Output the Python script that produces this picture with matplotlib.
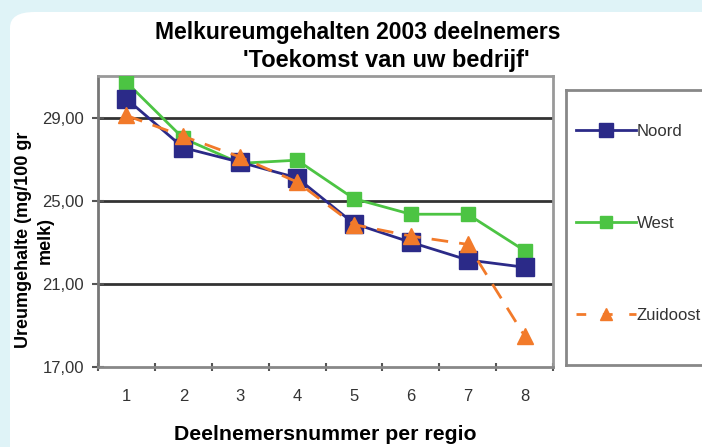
import matplotlib.pyplot as plt
from matplotlib.patches import FancyBboxPatch
from matplotlib.lines import Line2D

plt.rcParams['font.family'] = ['Liberation Sans', 'DejaVu Sans']

# gegevens
deelnemers = [1, 2, 3, 4, 5, 6, 7, 8]
noord = [29.9, 27.55, 26.85, 26.1, 23.9, 23.0, 22.15, 21.8]
west = [30.7, 28.0, 26.8, 26.95, 25.1, 24.35, 24.35, 22.6]
zuidoost = [29.1, 28.1, 27.1, 25.9, 23.85, 23.3, 22.9, 18.5]
yticks = [17, 21, 25, 29]

fig = plt.figure(figsize=(7.02, 4.47), dpi=100)
fig.patch.set_facecolor('#dff3f7')

# witte paneel met ronde hoeken
panel = FancyBboxPatch((10 / 702, -0.1), 1.2, 435 / 447 + 0.1,
                       boxstyle='round,pad=0,rounding_size=0.035',
                       transform=fig.transFigure, facecolor='white',
                       edgecolor='none', zorder=-5)
fig.patches.append(panel)

ax = fig.add_axes([98 / 702, 1 - 367 / 447, 455 / 702, 291 / 447])
ax.set_facecolor('white')

c_noord = '#2b2a88'
c_west = '#4cc443'
c_zo = '#f27a2a'

ax.plot(deelnemers, noord, color=c_noord, lw=2, marker='s', ms=13,
        mfc=c_noord, mec=c_noord, label='Noord', zorder=4)
ax.plot(deelnemers, west, color=c_west, lw=2, marker='s', ms=9.5,
        mfc=c_west, mec=c_west, label='West', zorder=3)
ax.plot(deelnemers, zuidoost, color=c_zo, lw=2, ls=(0, (6, 4)), marker='^', ms=12,
        mfc=c_zo, mec=c_zo, label='Zuidoost', zorder=5)

ax.set_xlim(0.5, 8.5)
ax.set_ylim(17, 31)
ax.set_yticks(yticks)
ax.set_yticklabels([f'{v:.2f}'.replace('.', ',') for v in yticks], fontsize=12, color='#333333')
ax.set_xticks([x + 0.5 for x in range(0, 9)])
ax.set_xticklabels([])
ax.set_xticks(deelnemers, minor=True)
ax.set_xticklabels([str(d) for d in deelnemers], minor=True, fontsize=12, color='#333333')
ax.tick_params(axis='x', which='minor', length=0, pad=16)
ax.tick_params(axis='x', which='major', length=6, width=1.5, color='#555555', direction='inout')
ax.tick_params(axis='y', length=8, width=1.5, color='#555555', direction='inout', pad=6)

for y in [21, 25, 29]:
    ax.axhline(y, color='#333333', lw=2, zorder=1)

for s in ax.spines.values():
    s.set_color('#999999')
    s.set_linewidth(2)
ax.spines['left'].set_color('#777777')
ax.spines['bottom'].set_color('#888888')

fig.text(358 / 702, 1 - 33 / 447, 'Melkureumgehalten 2003 deelnemers',
         ha='center', va='center', fontsize=16.5, fontweight='bold')
fig.text(386 / 702, 1 - 61 / 447, "'Toekomst van uw bedrijf'",
         ha='center', va='center', fontsize=17, fontweight='bold')
# y-label in twee regels als losse teksten
fig.text(24 / 702, 1 - 240 / 447, 'Ureumgehalte (mg/100 gr', rotation=90,
         ha='center', va='center', fontsize=13, fontweight='bold')
fig.text(45 / 702, 1 - 240 / 447, 'melk)', rotation=90,
         ha='center', va='center', fontsize=13, fontweight='bold')
fig.text(325 / 702, 1 - 434 / 447, 'Deelnemersnummer per regio',
         ha='center', va='center', fontsize=15.3, fontweight='bold')

# legenda in eigen kader
lax = fig.add_axes([566 / 702, 1 - 365 / 447, 160 / 702, 275 / 447])
lax.set_xticks([])
lax.set_yticks([])
lax.set_facecolor('white')
for s in lax.spines.values():
    s.set_color('#888888')
    s.set_linewidth(2)
handles = [
    Line2D([], [], color=c_noord, lw=2, marker='s', ms=10, mfc=c_noord, mec=c_noord),
    Line2D([], [], color=c_west, lw=2, marker='s', ms=8.5, mfc=c_west, mec=c_west),
    Line2D([], [], color=c_zo, lw=2, ls=(0, (3.5, 6)), marker='^', ms=8, mfc=c_zo, mec=c_zo),
]
leg = lax.legend(handles, ['Noord', 'West', 'Zuidoost'], loc='center left',
                 bbox_to_anchor=(0, 0.515), frameon=False, fontsize=12,
                 handlelength=3.6, handletextpad=0.05, labelspacing=4.6, borderaxespad=0.2)
for t in leg.get_texts():
    t.set_color('#333333')

fig.savefig('out.png', dpi=100, facecolor=fig.get_facecolor())
